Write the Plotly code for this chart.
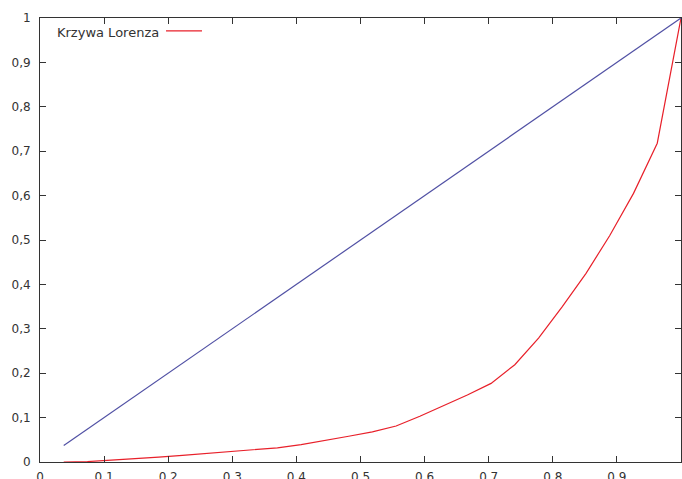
import plotly.graph_objects as go

# cumulative population share (27 groups)
population_share = [i / 27 for i in range(1, 28)]
# cumulative income share (Lorenz curve)
lorenz_share = [0.0, 0.001, 0.004, 0.007, 0.011, 0.015, 0.019, 0.023, 0.027,
                0.032, 0.039, 0.048, 0.058, 0.068, 0.081, 0.103, 0.127, 0.151,
                0.177, 0.219, 0.279, 0.350, 0.425, 0.510, 0.605, 0.718, 1.0]
# line of perfect equality
equality_share = population_share

x_ticks = [0, 0.1, 0.2, 0.3, 0.4, 0.5, 0.6, 0.7, 0.8, 0.9, 1]
y_ticks = [0, 0.1, 0.2, 0.3, 0.4, 0.5, 0.6, 0.7, 0.8, 0.9, 1]
legend_label = "Krzywa Lorenza"

axis_color = "#333333"
font = dict(family="DejaVu Sans", size=12, color="#333333")
legend_font = dict(family="DejaVu Sans", size=13, color="#333333")

fig = go.Figure()
fig.add_trace(go.Scatter(x=population_share, y=lorenz_share, mode="lines",
                         line=dict(color="#e8202a", width=1.2),
                         name=legend_label, showlegend=False, cliponaxis=False))
fig.add_trace(go.Scatter(x=population_share, y=equality_share, mode="lines",
                         line=dict(color="#5050a4", width=1.2),
                         showlegend=False, cliponaxis=False))

axis_common = dict(range=[0, 1], showgrid=False, zeroline=False,
                   showline=True, linecolor=axis_color, linewidth=1,
                   mirror="ticks", ticks="inside", ticklen=6,
                   tickcolor=axis_color, tickwidth=1, tickfont=font,
                   automargin=False)

fig.update_xaxes(tickvals=x_ticks, **axis_common, ticklabelstandoff=4)
fig.update_yaxes(tickvals=y_ticks, **axis_common, ticklabelstandoff=6)

# gnuplot-style legend: text then line sample
fig.add_annotation(xref="paper", yref="paper", x=0.0234, y=0.968,
                   xanchor="left", yanchor="middle", showarrow=False,
                   text=legend_label, font=legend_font)
fig.add_shape(type="line", xref="paper", yref="paper",
              x0=0.1966, x1=0.2527, y0=0.971, y1=0.971,
              line=dict(color="#e8202a", width=1.2))

fig.update_layout(width=682, height=479,
                  margin=dict(l=40, r=1, t=18, b=17, autoexpand=False),
                  paper_bgcolor="white", plot_bgcolor="white",
                  separators=", ", font=font, showlegend=False)

fig.write_html("out.html",
               config={"displayModeBar": False},
               post_script="document.body.style.margin='0px';"
                           "document.body.style.overflow='hidden';"
                           "document.documentElement.style.overflow='hidden';"
                           "document.body.style.height='479px';")
